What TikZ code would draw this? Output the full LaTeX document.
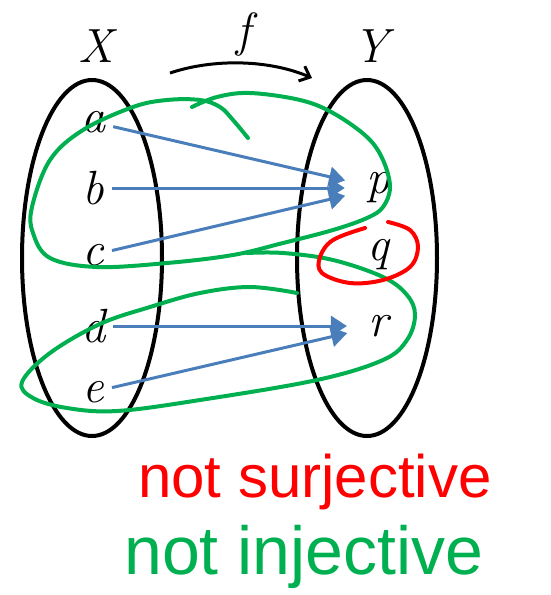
\documentclass[tikz,border=0pt]{standalone}
\usepackage{fontspec}
\newfontfamily\handfont{Liberation Sans}
\usetikzlibrary{arrows.meta,shapes.geometric}
\definecolor{mapblue}{HTML}{4A7EBB}
\definecolor{inkgreen}{HTML}{00B050}
\definecolor{inkred}{HTML}{FF0000}
\tikzset{
  setoval/.style={draw=black, line width=4pt, ellipse, minimum width=140pt, minimum height=356pt, inner sep=0pt},
  elem/.style={font=\fontsize{48}{52}\selectfont\itshape, inner sep=8pt},
  setlabel/.style={font=\fontsize{48}{52}\selectfont\itshape, inner sep=0pt},
  maparrow/.style={draw=mapblue, line width=3pt, -{Triangle[length=16pt,width=20pt]}, shorten >=13pt},
  greenink/.style={draw=inkgreen, line width=4pt, line cap=round, line join=round},
  redink/.style={draw=inkred, line width=4pt, line cap=round, line join=round},
  note/.style={inner sep=0pt, anchor=base west}
}
\begin{document}
\begin{tikzpicture}[x=1pt,y=-1pt]
\useasboundingbox (0,0) rectangle (550,595);
% sets
\node[setoval] (SX) at (92,258) {};
\node[setoval] (SY) at (367,258) {};
\node[setlabel] (lX) at (96,46) {X};
\node[setlabel] (lY) at (371,46) {Y};
\node[setlabel] (lf) at (244,34) {f};
\coordinate (fs) at (170,73);
\coordinate (fe) at (312,78);
\draw[line width=3pt, -{Straight Barb[length=9pt,width=16pt]}] (fs) .. controls (215,58) and (270,60) .. (fe);
% elements
\node[elem] (a) at (93,122) {a};
\node[elem] (b) at (93,188) {b};
\node[elem] (c) at (93,255) {c};
\node[elem] (d) at (93,326) {d};
\node[elem] (e) at (93,392) {e};
\node[elem] (p) at (378,188) {p};
\node[elem] (q) at (378,255) {q};
\node[elem] (r) at (378,326) {r};
% map arrows
\draw[maparrow] (a) -- (p);
\draw[maparrow] (b) -- (p);
\draw[maparrow] (c) -- (p);
\draw[maparrow] (d) -- (r);
\draw[maparrow] (e) -- (r);
% green loop 1
\draw[greenink] plot[smooth, tension=0.6] coordinates {
 (248,138) (233,120) (220,107) (200,100) (167,100) (133,107) (83,130) (50,160)
 (32,207) (33,233) (50,258) (97,267) (167,263) (233,255) (283,243) (333,230)
 (367,218) (383,207) (390,187) (383,160) (367,137) (333,113) (300,100) (250,93)
 (217,97) (192,107)};
% green loop 2
\draw[greenink] plot[smooth, tension=0.6] coordinates {
 (247,253) (283,253) (333,260) (383,277) (407,295) (415,315) (407,340)
 (383,360) (317,380) (200,400) (117,411) (67,408) (33,398) (22,382)
 (50,353) (100,324) (150,307) (200,293) (250,287) (297,293)};
% red loop
\draw[redink] plot[smooth, tension=0.6] coordinates {
 (365,228) (333,240) (320,257) (322,273) (350,283) (383,280) (410,267)
 (418,247) (410,230) (388,222)};
% notes
\node[note, text=inkred, font=\handfont\fontsize{60}{64}\selectfont] (ns) at (138,497) {not surjective};
\node[note, text=inkgreen, font=\handfont\fontsize{68}{72}\selectfont] (ni) at (124,574) {not injective};
\end{tikzpicture}
\end{document}
